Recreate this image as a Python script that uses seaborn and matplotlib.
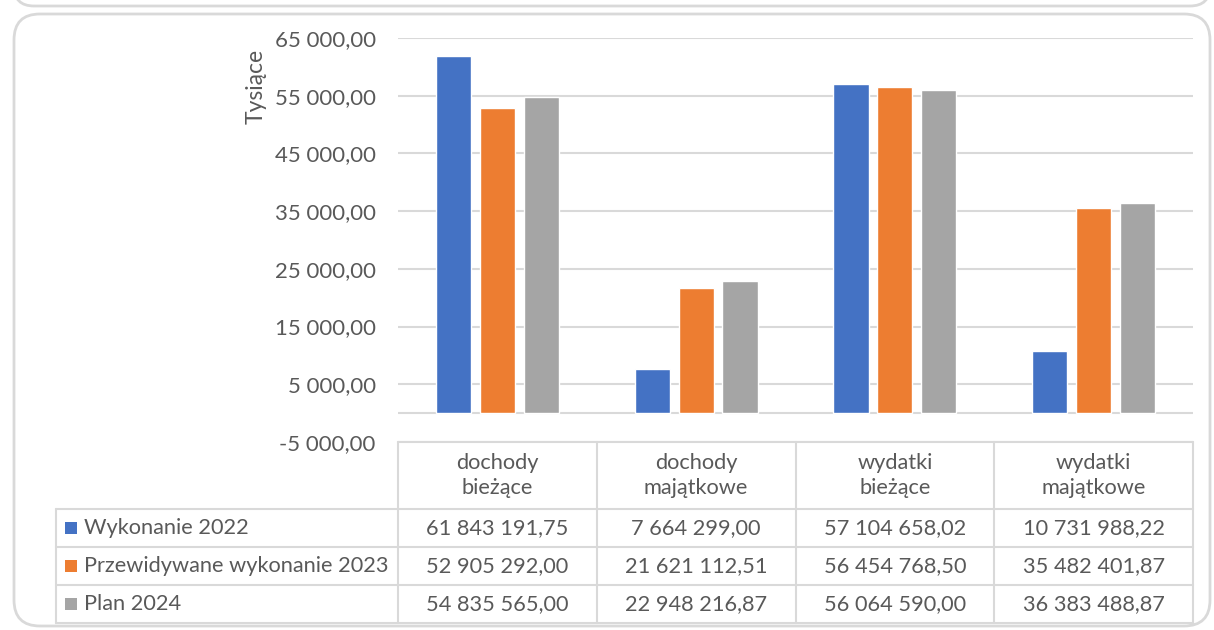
import matplotlib
matplotlib.use("Agg")
import matplotlib.pyplot as plt
from matplotlib.patches import FancyBboxPatch
import seaborn as sns
import pandas as pd
import numpy as np

# Dane (w złotych)
kategorie = ["dochody\nbieżące", "dochody\nmajątkowe", "wydatki\nbieżące", "wydatki\nmajątkowe"]
serie = ["Wykonanie 2022", "Przewidywane wykonanie 2023", "Plan 2024"]
wykonanie_2022 = [61843191.75, 7664299.00, 57104658.02, 10731988.22]
przewidywane_2023 = [52905292.00, 21621112.51, 56454768.50, 35482401.87]
plan_2024 = [54835565.00, 22948216.87, 56064590.00, 36383488.87]
kolory = ["#4472C4", "#ED7D31", "#A5A5A5"]
y_ticks = list(range(-5000, 65001, 10000))

TEXT = "#595959"
GRID = "#D9D9D9"
W, H = 1214, 630
FS = 15.7

sns.set_theme(style="white")
plt.rcParams["font.family"] = ["Lato", "DejaVu Sans"]


def fmt(v):
    return f"{v:,.2f}".replace(",", " ").replace(".", ",")


wartosci = [wykonanie_2022, przewidywane_2023, plan_2024]
df = pd.DataFrame({
    "kategoria": np.repeat([kategorie], 3, axis=0).ravel(),
    "seria": np.repeat(serie, len(kategorie)),
    "tys": np.concatenate(wartosci) / 1000,
})

fig = plt.figure(figsize=(W / 100, H / 100), dpi=100)

# tło w pikselach: ramki i tabela danych
bg = fig.add_axes([0, 0, 1, 1])
bg.set_xlim(0, W)
bg.set_ylim(H, 0)
bg.axis("off")
bg.add_patch(FancyBboxPatch((14, 14), 1196, 612, boxstyle="round,pad=0,rounding_size=26",
                            fc="white", ec=GRID, lw=2))
bg.add_patch(FancyBboxPatch((14, -60), 1196, 66, boxstyle="round,pad=0,rounding_size=20",
                            fc="white", ec=GRID, lw=2, clip_on=True))

# osie wykresu
x0, x1, y_top, y_bot = 398, 1193, 38, 442
ax = fig.add_axes([x0 / W, 1 - y_bot / H, (x1 - x0) / W, (y_bot - y_top) / H])
ax.set_facecolor("none")
sns.barplot(data=df, x="kategoria", y="tys", hue="seria", palette=kolory,
            order=kategorie, hue_order=serie, width=0.663, gap=0.2,
            saturation=1, legend=False, ax=ax, zorder=3)
ax.set_xlim(-0.5, len(kategorie) - 0.5)
ax.set_ylim(y_ticks[0], y_ticks[-1])
ax.set_yticks(y_ticks)
ax.set_yticklabels([fmt(t) for t in y_ticks])
ax.tick_params(axis="y", length=0, pad=16, labelsize=16, labelcolor=TEXT)
ax.set_xticks([])
ax.set_xlabel("")
ax.set_ylabel("")
ax.grid(axis="y", color=GRID, lw=1.5, zorder=0)
ax.axhline(0, color=GRID, lw=1.5, zorder=1)
sns.despine(ax=ax, left=True, bottom=True)

fig.text(256 / W, 1 - 86 / H, "Tysiące", rotation=90, ha="center", va="center",
         fontsize=16.5, color=TEXT)

# tabela danych
col_w = (x1 - x0) / len(kategorie)
rows = [y_bot, 509, 547, 585, 623]
lab_x = 56
kw = dict(color=GRID, lw=1.5)
bg.plot([x0, x1], [rows[0], rows[0]], **kw)
for r in rows[1:]:
    bg.plot([lab_x, x1], [r, r], **kw)
bg.plot([lab_x, lab_x], [rows[1], rows[-1]], **kw)
for i in range(len(kategorie) + 1):
    xc = x0 + i * col_w
    bg.plot([xc, xc], [rows[0], rows[-1]], **kw)

for i, k in enumerate(kategorie):
    bg.text(x0 + (i + 0.5) * col_w, (rows[0] + rows[1]) / 2, k, ha="center", va="center",
            fontsize=FS, color=TEXT, linespacing=1.3)
for j, (s, vals, c) in enumerate(zip(serie, wartosci, kolory)):
    yc = (rows[j + 1] + rows[j + 2]) / 2
    bg.plot(71, yc, marker="s", ms=8.5, color=c, mew=0)
    bg.text(84, yc, s, ha="left", va="center", fontsize=FS, color=TEXT)
    for i, v in enumerate(vals):
        bg.text(x0 + (i + 0.5) * col_w, yc, fmt(v), ha="center", va="center",
                fontsize=FS, color=TEXT)

fig.savefig("out.png", dpi=100, facecolor="white")
